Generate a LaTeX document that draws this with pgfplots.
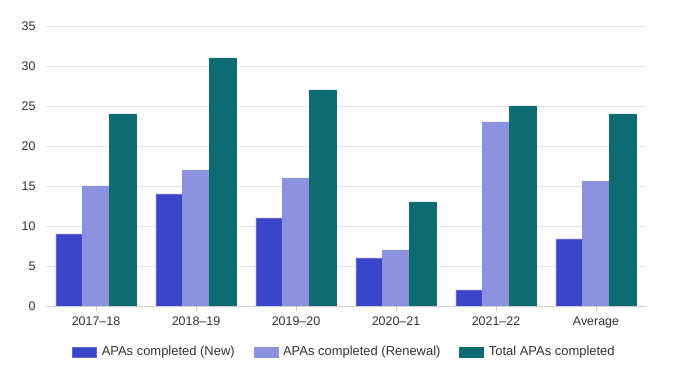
\documentclass[border=0pt]{standalone}
\usepackage{pgfplots}
\pgfplotsset{compat=1.18}
\usepackage{fontspec}
\setmainfont{Liberation Sans}
\definecolor{cNew}{HTML}{3A45C9}
\definecolor{cRen}{HTML}{8B91DF}
\definecolor{cTot}{HTML}{0E6B72}
\definecolor{txt}{HTML}{333333}
\definecolor{grd}{HTML}{E2E2E2}
\begin{document}
\begin{tikzpicture}
\path[use as bounding box] (0,0) rectangle (689bp,380bp);
\begin{axis}[
  at={(46bp,74bp)}, anchor=south west,
  scale only axis, width=600bp, height=280bp,
  xmin=-0.5, xmax=5.5, ymin=0, ymax=35,
  ybar=0pt, bar width=26.67bp,
  xtick={0,1,2,3,4,5},
  xticklabels={2017--18,2018--19,2019--20,2020--21,2021--22,Average},
  ytick={0,5,...,35},
  ymajorgrids, grid style={grd, line width=0.8pt},
  axis x line*=bottom, axis y line*=left,
  y axis line style={draw=none},
  x axis line style={draw=grd!80!gray, line width=0.8pt},
  xtick pos=bottom, tick align=outside,
  major tick length=5bp,
  xtick style={draw=grd!80!gray, line width=0.8pt},
  ytick style={draw=none},
  /pgf/number format/assume math mode=true,
  tick label style={font=\fontsize{12.5}{14}\selectfont, text=txt},
  xticklabel style={yshift=-2bp},
  yticklabel style={xshift=-2bp},
  legend style={at={(0.4975,-0.164)}, anchor=center, draw=none,
    font=\fontsize{13}{15}\selectfont, text=txt,
    /tikz/every even column/.append style={column sep=17bp}},
  legend columns=3,
  legend image code/.code={\fill[#1] (0bp,-5bp) rectangle (24bp,5bp); \path (27bp,0bp);},
]
\addplot[fill=cNew, draw=cNew!80!white] coordinates {(0,9) (1,14) (2,11) (3,6) (4,2) (5,8.4)};
\addplot[fill=cRen, draw=cRen] coordinates {(0,15) (1,17) (2,16) (3,7) (4,23) (5,15.6)};
\addplot[fill=cTot, draw=cTot] coordinates {(0,24) (1,31) (2,27) (3,13) (4,25) (5,24)};
\legend{APAs completed (New),APAs completed (Renewal),Total APAs completed}
\end{axis}
\end{tikzpicture}
\end{document}
